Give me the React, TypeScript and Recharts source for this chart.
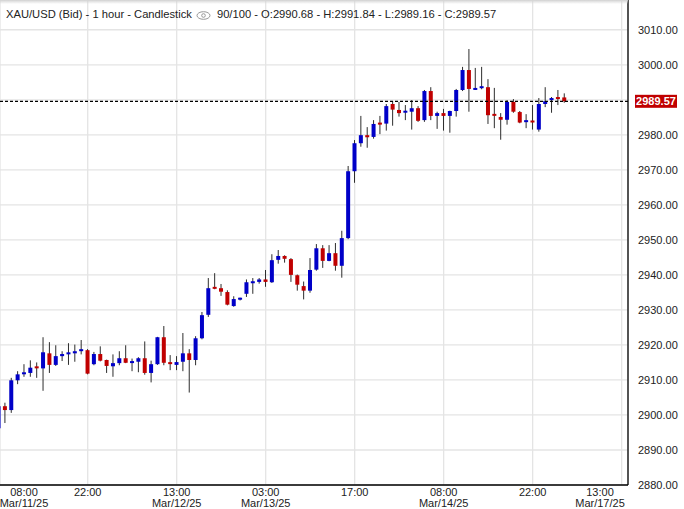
import React from "react";
import {
    ComposedChart,
    Bar,
    XAxis,
    YAxis,
    CartesianGrid,
    ReferenceLine,
} from "recharts";

// hourly candles, oldest first
const opens = [
    2896.2, 2902.5, 2901.4, 2909.9, 2911.6, 2912.0, 2913.6, 2913.3, 2917.6, 2914.3,
    2916.8, 2917.4, 2917.6, 2918.2, 2918.5, 2914.5, 2917.4, 2915.7, 2913.9, 2914.8,
    2916.2, 2914.9, 2915.2, 2916.2, 2912.0, 2914.5, 2922.2, 2914.8, 2914.3, 2915.2,
    2917.6, 2915.7, 2921.9, 2928.6, 2936.3, 2936.2, 2935.1, 2931.1, 2933.0, 2934.6,
    2937.8, 2938.0, 2938.7, 2937.9, 2944.3, 2945.4, 2944.5, 2939.9, 2936.8, 2935.5,
    2941.5, 2947.6, 2944.0, 2946.2, 2942.6, 2950.5, 2969.6, 2977.6, 2979.9, 2979.4,
    2983.2, 2983.2, 2988.8, 2987.1, 2986.3, 2986.6, 2987.6, 2984.2, 2992.5, 2985.4,
    2986.2, 2985.4, 2986.8, 2992.8, 2998.5, 2992.9, 2993.1, 2993.6, 2985.7, 2985.1,
    2984.3, 2989.4, 2986.5, 2983.5, 2983.8, 2981.5, 2988.8, 2989.9, 2990.5, 2990.68,
];
const highs = [
    2903.0, 2903.5, 2910.6, 2912.5, 2914.5, 2915.6, 2915.0, 2922.2, 2920.8, 2919.9,
    2918.2, 2920.5, 2920.1, 2921.4, 2918.8, 2918.0, 2919.6, 2915.8, 2917.3, 2918.2,
    2919.9, 2916.1, 2916.5, 2921.0, 2915.5, 2922.3, 2925.4, 2917.1, 2916.8, 2923.4,
    2918.8, 2922.5, 2929.4, 2939.1, 2940.5, 2937.4, 2935.6, 2933.9, 2933.5, 2938.7,
    2939.1, 2939.1, 2941.4, 2945.9, 2947.1, 2945.6, 2944.8, 2940.1, 2938.1, 2944.8,
    2948.8, 2948.5, 2948.5, 2949.1, 2952.6, 2971.1, 2978.5, 2985.4, 2982.2, 2984.2,
    2985.4, 2988.8, 2989.6, 2989.4, 2988.5, 2989.9, 2988.2, 2992.8, 2993.6, 2986.6,
    2987.4, 2986.9, 2993.1, 2999.4, 3004.5, 2999.1, 2999.4, 2995.9, 2993.4, 2986.2,
    2989.9, 2990.2, 2986.8, 2985.9, 2988.5, 2990.5, 2993.6, 2990.8, 2992.8, 2991.84,
];
const lows = [
    2895.0, 2897.7, 2900.6, 2908.8, 2910.9, 2910.9, 2910.6, 2906.9, 2912.0, 2914.0,
    2915.4, 2914.3, 2915.2, 2917.3, 2911.6, 2914.2, 2915.3, 2912.0, 2910.9, 2914.2,
    2914.8, 2912.5, 2912.2, 2911.5, 2909.3, 2914.3, 2914.2, 2912.8, 2912.8, 2912.5,
    2906.4, 2914.2, 2921.6, 2928.0, 2935.9, 2934.0, 2931.3, 2930.9, 2932.7, 2933.7,
    2934.6, 2937.5, 2936.6, 2937.7, 2943.2, 2943.5, 2938.0, 2935.5, 2933.0, 2934.9,
    2941.2, 2942.0, 2943.9, 2941.2, 2939.2, 2950.2, 2966.3, 2976.6, 2976.3, 2978.9,
    2980.2, 2981.2, 2982.6, 2985.2, 2984.2, 2981.5, 2983.7, 2983.7, 2984.2, 2981.7,
    2981.2, 2980.6, 2985.2, 2992.5, 2986.6, 2992.8, 2993.0, 2983.1, 2981.9, 2978.6,
    2982.9, 2986.3, 2983.3, 2981.9, 2981.5, 2980.9, 2987.9, 2986.3, 2988.5, 2989.16,
];
const closes = [
    2902.5, 2901.4, 2909.9, 2911.6, 2911.9, 2913.5, 2913.3, 2917.9, 2914.3, 2916.8,
    2917.4, 2917.6, 2918.2, 2918.5, 2911.8, 2917.4, 2915.5, 2914.0, 2914.8, 2916.2,
    2914.9, 2915.1, 2916.2, 2912.0, 2914.5, 2922.2, 2914.9, 2914.6, 2915.1, 2917.6,
    2915.7, 2921.9, 2928.5, 2936.2, 2936.0, 2935.2, 2931.5, 2933.1, 2933.2, 2937.9,
    2937.9, 2938.7, 2938.0, 2944.2, 2945.4, 2944.6, 2940.0, 2937.2, 2935.5, 2941.4,
    2947.6, 2944.0, 2946.2, 2942.6, 2950.5, 2969.6, 2977.6, 2979.9, 2979.3, 2983.1,
    2982.9, 2988.2, 2987.2, 2986.2, 2986.6, 2987.6, 2984.0, 2992.5, 2985.4, 2986.2,
    2985.4, 2986.8, 2992.8, 2998.5, 2993.1, 2993.1, 2993.6, 2985.6, 2985.4, 2984.3,
    2989.4, 2986.6, 2983.5, 2983.9, 2983.5, 2988.8, 2989.6, 2990.5, 2990.3, 2989.57,
];

const xTickIndex = [0, 14, 28, 42, 56, 70, 84, 98];
const xTickTime = ["08:00", "22:00", "13:00", "03:00", "17:00", "08:00", "22:00", "13:00"];
const xTickDate = ["Mar/11/25", "", "Mar/12/25", "Mar/13/25", "", "Mar/14/25", "", "Mar/17/25"];

const yTicks = [
    2880, 2890, 2900, 2910, 2920, 2930, 2940, 2950, 2960, 2970, 2980, 2990, 3000, 3010,
];

const lastPrice = 2989.57;

const data = opens.map((o, i) => ({
    i,
    o,
    h: highs[i],
    l: lows[i],
    c: closes[i],
    range: [lows[i], highs[i]],
}));

const FONT = "'Liberation Sans', Arial, sans-serif";
const UP = "#0000c8";
const DOWN = "#c00000";

const Candle = (props: any) => {
    const { x, y, width, height, payload } = props;
    if (x == null || !payload) return null;
    const cx = x + width / 2;
    const top = Math.min(y, y + height);
    const span = Math.abs(height);
    const ppu = span / (payload.h - payload.l || 1);
    const yO = top + (payload.h - payload.o) * ppu;
    const yC = top + (payload.h - payload.c) * ppu;
    const up = payload.c >= payload.o;
    const bodyH = Math.max(Math.abs(yO - yC), 2);
    const bodyTop = Math.min(yO, yC) - (bodyH > Math.abs(yO - yC) ? 1 : 0);
    return (
        <g>
            <line x1={cx} x2={cx} y1={top} y2={top + span} stroke="#2d2d2d" strokeWidth={1} />
            <rect x={cx - 2} y={bodyTop} width={4} height={bodyH} fill={up ? UP : DOWN} />
        </g>
    );
};

const XTick = (props: any) => {
    const { x, payload } = props;
    const k = xTickIndex.indexOf(payload.value);
    if (k < 0) return null;
    const cx = Math.min(Math.max(x, 24), 600);
    // the axis line sits at 485, labels stack just below it
    const base = props.y;
    return (
        <g>
            <text x={cx} y={base + 3} textAnchor="middle" fontSize={11} fill="#222" fontFamily={FONT}>
                {xTickTime[k]}
            </text>
            {xTickDate[k] && (
                <text x={cx} y={base + 13.5} textAnchor="middle" fontSize={11} fill="#222" fontFamily={FONT}>
                    {xTickDate[k]}
                </text>
            )}
        </g>
    );
};

const PriceTag = (props: any) => {
    const vb = props.viewBox;
    if (!vb) return null;
    const left = vb.x + vb.width + 7;
    return (
        <g>
            <rect x={left} y={vb.y - 6.5} width={42} height={13} fill={DOWN} />
            <text
                x={left + 21}
                y={vb.y + 4}
                textAnchor="middle"
                fontSize={11}
                fontWeight="bold"
                fill="#fff"
                fontFamily={FONT}
            >
                {lastPrice.toFixed(2)}
            </text>
        </g>
    );
};

const EyeIcon = () => (
    <svg width={15} height={9} style={{ verticalAlign: "middle", margin: "0 6px 0 4px" }}>
        <ellipse cx={7.5} cy={4.5} rx={6.5} ry={3.8} fill="none" stroke="#999" strokeWidth={1} />
        <circle cx={7.5} cy={4.5} r={1.8} fill="none" stroke="#999" strokeWidth={1} />
    </svg>
);

export default function App() {
    return (
        <div
            style={{
                position: "absolute",
                left: 0,
                top: 0,
                width: 684,
                height: 509,
                background: "#fff",
                fontFamily: FONT,
            }}
        >
            <ComposedChart
                width={684}
                height={509}
                data={data}
                margin={{ top: 0, right: 0, left: 0, bottom: 0 }}
            >
                <CartesianGrid stroke="#e4e4e4" strokeWidth={1.3} />
                <XAxis
                    dataKey="i"
                    type="number"
                    domain={[0.2, 99]}
                    allowDataOverflow
                    ticks={xTickIndex}
                    interval={0}
                    height={24}
                    tickLine={false}
                    axisLine={{ stroke: "#000", strokeWidth: 1.3 }}
                    tick={<XTick />}
                />
                <YAxis
                    orientation="right"
                    type="number"
                    domain={[2880, 3018.5]}
                    allowDataOverflow
                    ticks={yTicks}
                    interval={0}
                    width={56}
                    tickLine={false}
                    tickMargin={4}
                    axisLine={{ stroke: "#000", strokeWidth: 1.3 }}
                    tick={{ fontSize: 11, fill: "#222", fontFamily: FONT }}
                    // the 2990 label sits under the last-price tag
                    tickFormatter={(v: number) => (v === 2990 ? "" : v.toFixed(2))}
                />
                <ReferenceLine
                    y={lastPrice}
                    stroke="#000"
                    strokeWidth={1.3}
                    strokeDasharray="3 2"
                    label={<PriceTag />}
                />
                <Bar dataKey="range" barSize={4} shape={<Candle />} isAnimationActive={false} />
            </ComposedChart>
            <div
                style={{
                    position: "absolute",
                    left: 0,
                    top: 0,
                    width: 628,
                    height: 4,
                    background: "linear-gradient(#d4d4d4, rgba(255,255,255,0))",
                }}
            />
            <div
                style={{
                    position: "absolute",
                    left: 6,
                    top: 7,
                    fontSize: 11.2,
                    lineHeight: "14px",
                    color: "#222",
                    whiteSpace: "nowrap",
                }}
            >
                XAU/USD (Bid) - 1 hour - Candlestick
                <EyeIcon />
                90/100 - O:2990.68 - H:2991.84 - L:2989.16 - C:2989.57
            </div>
        </div>
    );
}
